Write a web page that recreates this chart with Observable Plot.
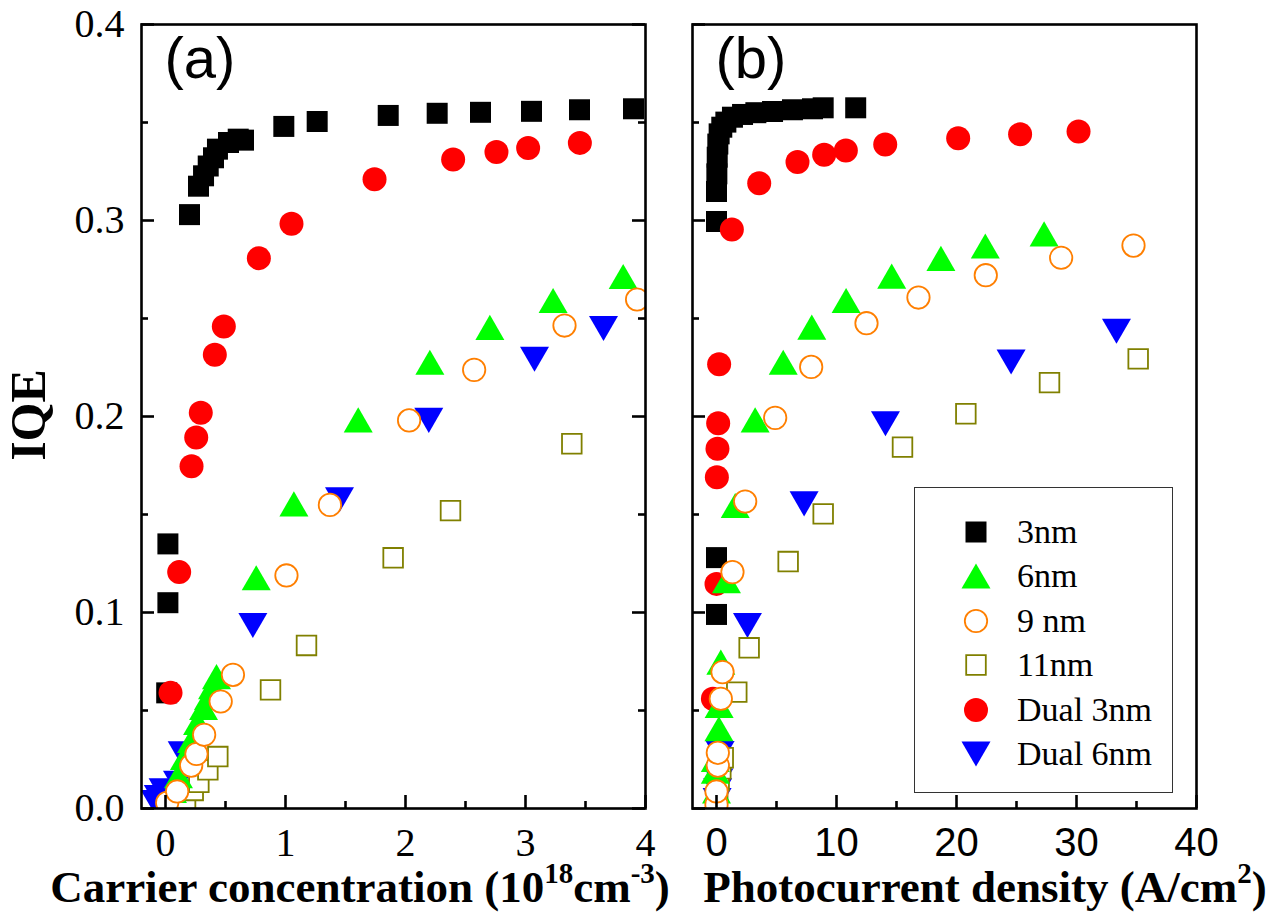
<!DOCTYPE html>
<html>
<head>
<meta charset="utf-8">
<script src="https://cdn.jsdelivr.net/npm/d3@7"></script>
<script src="https://cdn.jsdelivr.net/npm/@observablehq/plot@0.6"></script>
<style>
  body { margin: 0; background: #fff; }
  #fig { position: relative; width: 1285px; height: 918px; overflow: hidden; background: #fff; }
  #fig > svg { position: absolute; top: 0; }
  .title { position: absolute; font-family: "Liberation Serif", "Times New Roman", serif; font-weight: bold;
           font-size: 45px; line-height: 45px; white-space: nowrap; color: #000; text-align: center; }
  .sup { font-size: 29px; position: relative; top: -19px; }
  .ylab { position: absolute; left: 28px; top: 415px; transform: translate(-50%, -50%) rotate(-90deg);
          font-family: "Liberation Serif", "Times New Roman", serif; font-weight: bold; font-size: 50px;
          line-height: 50px; white-space: nowrap; }
  .legend { position: absolute; left: 914px; top: 487px; width: 259px; height: 306px; box-sizing: border-box;
            border: 1.3px solid #333; background: #fff; }
  .legend .row { position: absolute; left: 0; height: 34px; width: 100%; }
  .legend svg { position: absolute; left: 44px; top: 0; }
  .legend span { position: absolute; left: 102px; top: 0; font-family: "Liberation Serif", "Times New Roman", serif;
                 font-size: 34px; line-height: 34px; white-space: nowrap; }
</style>
</head>
<body>
<div id="fig"></div>
<script>
// ---- Tick values ----
const yMajor = [0, 0.1, 0.2, 0.3, 0.4];
const yMinor = [0.05, 0.15, 0.25, 0.35];
const xMajorA = [0, 1, 2, 3, 4];
const xMinorA = [0.5, 1.5, 2.5, 3.5];
const xMajorB = [0, 10, 20, 30, 40];
const xMinorB = [5, 15, 25, 35];

// ---- Series names ----
const seriesNames = ["3nm", "6nm", "9 nm", "11nm", "Dual 3nm", "Dual 6nm"];

// ---- (a) IQE vs carrier concentration (10^18 cm^-3) ----
const a3nm = [[0.01,0.059],[0.02,0.105],[0.02,0.135],[0.20,0.303],[0.275,0.3175],[0.317,0.3228],[0.356,0.3278],
  [0.40,0.332],[0.433,0.3364],[0.525,0.3398],[0.606,0.3415],[0.65,0.341],[0.986,0.348],[1.264,0.3505],
  [1.856,0.3536],[2.264,0.3547],[2.625,0.3552],[3.05,0.3557],[3.45,0.3565],[3.9,0.357]];
const a6nm = [[0.017,0.0031],[0.058,0.0092],[0.108,0.0168],[0.158,0.026],[0.217,0.0347],[0.267,0.0439],
  [0.317,0.0515],[0.358,0.0566],[0.392,0.0622],[0.425,0.0673],[0.756,0.1177],[1.07,0.1554],[1.606,0.1983],
  [2.203,0.2277],[2.703,0.2455],[3.23,0.2592],[3.814,0.2714]];
const a9nm = [[0.014,0.0029],[0.097,0.0087],[0.214,0.0219],[0.258,0.0278],[0.322,0.0376],[0.46,0.0546],
  [0.562,0.0682],[1.008,0.1189],[1.37,0.1549],[2.03,0.198],[2.572,0.2238],[3.325,0.2464],[3.93,0.2597]];
const a11nm = [[0.125,0.0015],[0.167,0.0049],[0.231,0.0092],[0.278,0.0134],[0.353,0.0197],[0.436,0.0265],
  [0.875,0.0605],[1.175,0.0832],[1.897,0.1279],[2.375,0.152],[3.386,0.1861]];
const aDual3 = [[0.042,0.059],[0.114,0.1206],[0.217,0.1746],[0.256,0.1893],[0.294,0.2019],[0.411,0.2315],
  [0.486,0.2459],[0.778,0.2808],[1.05,0.2983],[1.742,0.3211],[2.397,0.3311],[2.758,0.3349],[3.022,0.337],[3.453,0.3396]];
const aDual6 = [[-0.085,0.003],[-0.06,0.0056],[-0.02,0.009],[0.1,0.0128],[0.139,0.0279],[0.728,0.0934],
  [1.45,0.1575],[2.194,0.198],[3.075,0.2292],[3.65,0.2449]];

// ---- (b) IQE vs photocurrent density (A/cm^2) ----
const b3nm = [[0,0.099],[0,0.128],[0,0.2995],[0,0.3148],[0.03,0.3238],[0.06,0.3323],[0.11,0.339],[0.22,0.3442],
  [0.44,0.3476],[0.78,0.3502],[1.33,0.3527],[2.17,0.3541],[3.28,0.355],[4.67,0.3556],[6.33,0.3565],[8.0,0.357],
  [8.89,0.3575],[11.6,0.3575]];
const b6nm = [[0.0,0.002],[0.0,0.009],[-0.1,0.019],[-0.1,0.025],[0.2,0.0407],[0.22,0.0526],[0.36,0.0747],
  [0.83,0.1162],[1.56,0.1546],[3.22,0.1983],[5.56,0.2277],[7.94,0.2456],[10.8,0.2592],[14.6,0.2716],
  [18.7,0.2807],[22.4,0.287],[27.3,0.2932]];
const b9nm = [[0.0,0.002],[0.0,0.0087],[0.11,0.0219],[0.11,0.0284],[0.36,0.056],[0.5,0.0696],[1.33,0.1206],
  [2.39,0.1566],[4.89,0.1993],[7.89,0.2253],[12.5,0.2476],[16.83,0.2607],[22.44,0.2721],[28.72,0.281],[34.75,0.2872]];
const b11nm = [[0.1,0.009],[0.22,0.0143],[0.36,0.0202],[0.56,0.0259],[1.69,0.0594],[2.72,0.082],[5.97,0.126],
  [8.89,0.1503],[15.5,0.1844],[20.78,0.2014],[27.75,0.2173],[35.14,0.2294]];
const bDual3 = [[-0.3,0.056],[0,0.1146],[0.03,0.169],[0.08,0.1835],[0.14,0.1966],[0.22,0.2267],[1.28,0.2954],
  [3.56,0.319],[6.75,0.3298],[8.97,0.3335],[10.78,0.3357],[14.06,0.3388],[20.14,0.342],[25.3,0.344],[30.17,0.3454]];
const bDual6 = [[0.05,0.004],[0.1,0.009],[0.2,0.014],[0.3,0.028],[2.58,0.0934],[7.3,0.1554],[14.08,0.1963],
  [24.55,0.2278],[33.33,0.2435]];

// ---- Marker shapes (half-width r recovered from Plot's size = pi r^2) ----
const shape = (fn) => ({draw(ctx, size) { fn(ctx, Math.sqrt(size / Math.PI)); }});
const squareSym = shape((c, r) => { c.moveTo(-r, -r); c.lineTo(r, -r); c.lineTo(r, r); c.lineTo(-r, r); c.closePath(); });
const triUpSym = shape((c, r) => { const h = Math.sqrt(3) * r; c.moveTo(0, -h / 2); c.lineTo(r, h / 2); c.lineTo(-r, h / 2); c.closePath(); });
const triDownSym = shape((c, r) => { const h = Math.sqrt(3) * r; c.moveTo(0, h / 2); c.lineTo(r, -h / 2); c.lineTo(-r, -h / 2); c.closePath(); });
const circleSym = shape((c, r) => { c.moveTo(r, 0); c.arc(0, 0, r, 0, 2 * Math.PI); c.closePath(); });

// marker styles, in legend order
const styles = [
  {symbol: squareSym, r: 10.5, fill: "#000000", stroke: "none"},
  {symbol: triUpSym, r: 14.5, fill: "#00ff00", stroke: "none"},
  {symbol: circleSym, r: 11.2, fill: "#ffffff", stroke: "#ff7f00", strokeWidth: 1.8},
  {symbol: squareSym, r: 9.8, fill: "#ffffff", stroke: "#808000", strokeWidth: 1.8},
  {symbol: circleSym, r: 12, fill: "#ff0000", stroke: "none"},
  {symbol: triDownSym, r: 14.5, fill: "#0000ff", stroke: "none"}
];
// drawing order (back to front): 3nm, Dual 3nm, Dual 6nm, 11nm, 6nm, 9 nm
const drawOrder = [0, 4, 5, 3, 1, 2];

const serif = "Liberation Serif, Times New Roman, serif";
const sans = "Liberation Sans, Arial, sans-serif";
const MAJOR = 13, MINOR = 7;

// inward-pointing tick marks, drawn as short rules anchored on the frame edges
function bottomTicks(values, len) {
  return Plot.ruleX(values, {x: d => d, y1: () => 0, y2: () => 0, insetTop: -len, stroke: "#000", strokeWidth: 2.6});
}
function leftTicks(values, x0, len) {
  return Plot.ruleY(values, {y: d => d, x1: () => x0, x2: () => x0, insetRight: -len, stroke: "#000", strokeWidth: 2.6});
}
function rightTicks(values, x1, len) {
  return Plot.ruleY(values, {y: d => d, x1: () => x1, x2: () => x1, insetLeft: -len, stroke: "#000", strokeWidth: 2.6});
}

function panel({series, xDomain, xMajor, xMinor, xFont, label, width, marginLeft, marginRight, yLabels, mirrorY}) {
  const dots = drawOrder.map(i => Plot.dot(series[i], {x: d => d[0], y: d => d[1], clip: true, ...styles[i]}));
  const marks = [
    Plot.axisX({ticks: xMajor, tickSize: 0, tickPadding: 19, tickFormat: d3.format("d"), label: null,
      fontSize: 40, fontFamily: xFont, fill: "#000"}),
    ...dots,
    bottomTicks(xMajor, MAJOR),
    bottomTicks(xMinor, MINOR),
    leftTicks(yMajor, xDomain[0], MAJOR),
    leftTicks(yMinor, xDomain[0], MINOR),
    Plot.frame({stroke: "#000", strokeWidth: 2.6}),
    Plot.text([label], {text: d => d, frameAnchor: "top-left", dx: 23, dy: 53, lineAnchor: "bottom",
      textAnchor: "start", fontSize: 58, fontFamily: sans, fill: "#000"})
  ];
  if (yLabels) {
    marks.unshift(Plot.axisY({ticks: yMajor, tickSize: 0, tickPadding: 17, tickFormat: d3.format(".1f"), label: null,
      fontSize: 40, fontFamily: serif, fill: "#000"}));
  }
  if (mirrorY) {
    marks.push(rightTicks(yMajor, xDomain[1], MAJOR));
    marks.push(rightTicks(yMinor, xDomain[1], MINOR));
  }
  return Plot.plot({
    width, height: 918, marginLeft, marginRight, marginTop: 24, marginBottom: 110,
    x: {domain: xDomain}, y: {domain: [0, 0.4], axis: yLabels ? undefined : null},
    style: {background: "transparent", overflow: "visible", color: "#000"},
    marks
  });
}

const fig = document.getElementById("fig");

const svgA = panel({
  series: [a3nm, a6nm, a9nm, a11nm, aDual3, aDual6],
  xDomain: [-0.2, 4], xMajor: xMajorA, xMinor: xMinorA, xFont: serif, label: "(a)",
  width: 660, marginLeft: 141, marginRight: 15, yLabels: true, mirrorY: true
});
svgA.style.left = "0px";
fig.appendChild(svgA);

const svgB = panel({
  series: [b3nm, b6nm, b9nm, b11nm, bDual3, bDual6],
  xDomain: [-2, 40], xMajor: xMajorB, xMinor: xMinorB, xFont: sans, label: "(b)",
  width: 625, marginLeft: 32, marginRight: 89, yLabels: false, mirrorY: false
});
svgB.style.left = "660px";
fig.appendChild(svgB);

// ---- Axis titles ----
const tA = document.createElement("div");
tA.className = "title";
tA.style.left = "40px"; tA.style.width = "640px"; tA.style.top = "865px";
tA.innerHTML = 'Carrier concentration (10<span class="sup">18</span>cm<span class="sup">-3</span>)';
fig.appendChild(tA);

const tB = document.createElement("div");
tB.className = "title";
tB.style.left = "692px"; tB.style.width = "586px"; tB.style.top = "865px";
tB.innerHTML = 'Photocurrent density (A/cm<span class="sup">2</span>)';
fig.appendChild(tB);

const yl = document.createElement("div");
yl.className = "ylab";
yl.textContent = "IQE";
fig.appendChild(yl);

// ---- Legend ----
const legend = document.createElement("div");
legend.className = "legend";
seriesNames.forEach((name, i) => {
  const row = document.createElement("div");
  row.className = "row";
  row.style.top = (44 + i * 44.4 - 17) + "px";
  const st = styles[i];
  const p = d3.path();
  st.symbol.draw(p, Math.PI * st.r * st.r);
  const s = d3.create("svg").attr("width", 34).attr("height", 34).attr("viewBox", "-17 -17 34 34");
  s.append("path").attr("d", p.toString()).attr("fill", st.fill).attr("stroke", st.stroke)
    .attr("stroke-width", st.strokeWidth || null);
  row.appendChild(s.node());
  const t = document.createElement("span");
  t.textContent = name;
  row.appendChild(t);
  legend.appendChild(row);
});
fig.appendChild(legend);
</script>
</body>
</html>
